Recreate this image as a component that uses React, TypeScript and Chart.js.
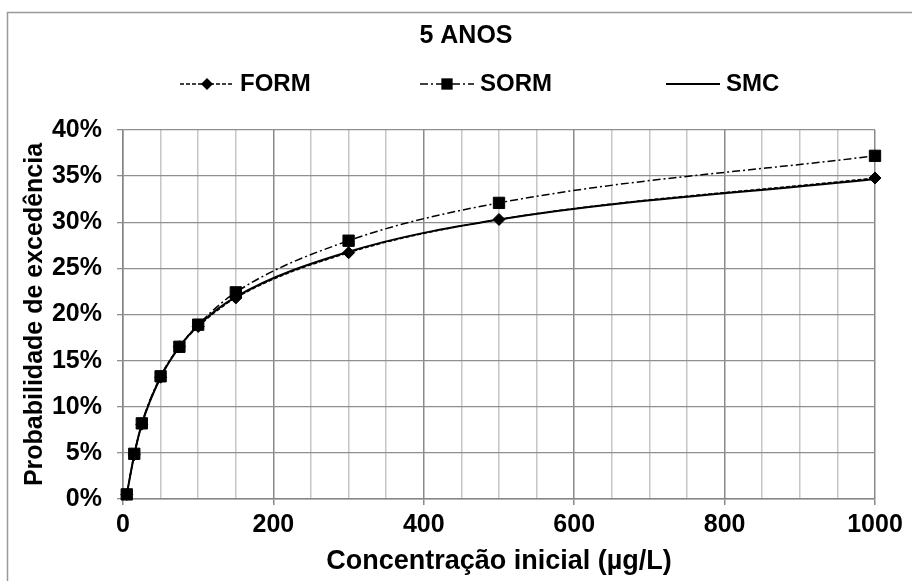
import React, { useEffect, useRef } from 'react';
import { Chart, registerables } from 'chart.js';

Chart.register(...registerables);

// ---- data ----
const concentrations = [5, 15, 25, 50, 75, 100, 150, 300, 500, 1000];
const formValues = [0.5, 4.8, 8.1, 13.2, 16.5, 18.7, 21.8, 26.7, 30.3, 34.8];
const sormValues = [0.5, 4.9, 8.2, 13.3, 16.5, 18.9, 22.4, 28.0, 32.1, 37.2];
const smcValues = [0.5, 4.8, 8.1, 13.2, 16.5, 18.8, 21.9, 26.8, 30.3, 34.7];
const seriesNames = ['FORM', 'SORM', 'SMC'];
const xTickLabels = [0, 200, 400, 600, 800, 1000];
const yTickLabels = [0, 5, 10, 15, 20, 25, 30, 35, 40];
const chartTitle = '5 ANOS';
const xAxisTitle = 'Concentração inicial (µg/L)';
const yAxisTitle = 'Probabilidade de excedência';

const FONT = "'Liberation Sans', Arial, sans-serif";
const CANVAS_W = 932;
const CANVAS_H = 581;

const frameLegendPlugin = {
  id: 'frameLegend',
  afterDraw(chart: any) {
    const ctx = chart.ctx as CanvasRenderingContext2D;
    ctx.save();
    // outer chart frame (left + top visible)
    ctx.strokeStyle = '#999999';
    ctx.lineWidth = 1.5;
    ctx.beginPath();
    ctx.moveTo(7.5, chart.height);
    ctx.lineTo(7.5, 12.5);
    ctx.lineTo(chart.width, 12.5);
    ctx.stroke();

    // legend
    const cx = chart.width / 2;
    const y = 84;
    const offsets = [-286, -46, 200];
    const sampleLen = 54;
    ctx.font = `bold 24px ${FONT}`;
    ctx.textBaseline = 'middle';
    ctx.textAlign = 'left';
    chart.data.datasets.forEach((ds: any, i: number) => {
      const x0 = cx + offsets[i];
      ctx.save();
      ctx.strokeStyle = '#000';
      ctx.lineWidth = ds.borderWidth;
      ctx.setLineDash(ds.borderDash || []);
      ctx.beginPath();
      ctx.moveTo(x0, y);
      ctx.lineTo(x0 + sampleLen, y);
      ctx.stroke();
      ctx.restore();
      const mx = x0 + sampleLen / 2;
      if (ds.pointRadius > 0) {
        ctx.save();
        ctx.fillStyle = '#000';
        ctx.beginPath();
        if (ds.pointStyle === 'rect') {
          const s = ds.pointRadius * Math.SQRT1_2;
          ctx.rect(mx - s, y - s, 2 * s, 2 * s);
        } else {
          const r = ds.pointRadius;
          ctx.moveTo(mx, y - r);
          ctx.lineTo(mx + r, y);
          ctx.lineTo(mx, y + r);
          ctx.lineTo(mx - r, y);
          ctx.closePath();
        }
        ctx.fill();
        ctx.restore();
      }
      ctx.fillStyle = '#000';
      ctx.fillText(ds.label, x0 + sampleLen + 6, y);
    });
    ctx.restore();
  },
};

export default function App() {
  const canvasRef = useRef<HTMLCanvasElement | null>(null);

  useEffect(() => {
    const canvas = canvasRef.current;
    if (!canvas) return;
    const toPts = (vals: number[]) => concentrations.map((x, i) => ({ x, y: vals[i] }));

    const chart = new Chart(canvas, {
      type: 'line',
      data: {
        datasets: [
          {
            label: seriesNames[0],
            data: toPts(formValues),
            borderColor: '#000',
            backgroundColor: '#000',
            borderWidth: 1.5,
            borderDash: [4, 2],
            pointStyle: 'rectRot',
            pointRadius: 6,
            pointBackgroundColor: '#000',
            pointBorderColor: '#000',
            pointBorderWidth: 1,
            cubicInterpolationMode: 'monotone',
            fill: false,
            clip: false,
          },
          {
            label: seriesNames[1],
            data: toPts(sormValues),
            borderColor: '#000',
            backgroundColor: '#000',
            borderWidth: 1.5,
            borderDash: [8, 3, 2, 3],
            pointStyle: 'rect',
            pointRadius: 8,
            pointBackgroundColor: '#000',
            pointBorderColor: '#000',
            pointBorderWidth: 1,
            cubicInterpolationMode: 'monotone',
            fill: false,
            clip: false,
          },
          {
            label: seriesNames[2],
            data: toPts(smcValues),
            borderColor: '#000',
            backgroundColor: '#000',
            borderWidth: 2,
            pointRadius: 0,
            cubicInterpolationMode: 'monotone',
            fill: false,
            clip: false,
          },
        ],
      },
      options: {
        animation: false,
        responsive: true,
        maintainAspectRatio: false,
        layout: { padding: { left: 0, right: 0, top: 0, bottom: 0 } },
        plugins: {
          legend: { display: false },
          tooltip: { enabled: false },
          title: {
            display: true,
            text: chartTitle,
            color: '#000',
            font: { family: FONT, size: 25, weight: 'bold' },
            padding: { top: 21, bottom: 79 },
          },
        },
        scales: {
          x: {
            type: 'linear',
            min: 0,
            max: 1000,
            afterFit: (s: any) => {
              s.height = 82;
            },
            ticks: {
              stepSize: 50,
              autoSkip: false,
              maxRotation: 0,
              color: '#000',
              padding: 5,
              font: { family: FONT, size: 25, weight: 'bold' },
              callback: (v: any) => (xTickLabels.includes(Number(v)) ? String(v) : ''),
            },
            grid: {
              color: (c: any) =>
                c.tick && xTickLabels.includes(c.tick.value) ? '#8a8a8a' : '#c6c6c6',
              tickColor: (c: any) =>
                c.tick && xTickLabels.includes(c.tick.value) ? '#8a8a8a' : 'rgba(0,0,0,0)',
              lineWidth: 1.5,
              tickLength: 6,
            },
            border: { color: '#868686', width: 1.5 },
            title: {
              display: true,
              text: xAxisTitle,
              color: '#000',
              font: { family: FONT, size: 27, weight: 'bold' },
              padding: { top: 0, bottom: 3 },
            },
          },
          y: {
            type: 'linear',
            min: 0,
            max: 40,
            afterFit: (s: any) => {
              s.width = 123;
            },
            ticks: {
              stepSize: 5,
              color: '#000',
              padding: 15,
              font: { family: FONT, size: 25, weight: 'bold' },
              callback: (v: any) => (yTickLabels.includes(Number(v)) ? `${v}%` : ''),
            },
            grid: {
              color: '#8f8f8f',
              tickColor: '#8f8f8f',
              lineWidth: 1.3,
              tickLength: 6,
            },
            border: { color: '#868686', width: 1.5 },
            title: {
              display: true,
              text: yAxisTitle,
              color: '#000',
              font: { family: FONT, size: 25, weight: 'bold' },
              padding: { top: 20, bottom: 0 },
            },
          },
          yRight: {
            type: 'linear',
            position: 'right',
            min: 0,
            max: 1,
            display: true,
            afterFit: (s: any) => {
              s.width = 57;
            },
            ticks: { display: false },
            grid: { display: false },
            border: { display: false },
          },
        },
      },
      plugins: [frameLegendPlugin],
    } as any);

    return () => {
      chart.destroy();
    };
  }, []);

  return (
    <div
      style={{
        position: 'fixed',
        left: 0,
        top: 0,
        width: 912,
        height: CANVAS_H,
        overflow: 'hidden',
        background: '#fff',
      }}
    >
      <div style={{ position: 'relative', width: CANVAS_W, height: CANVAS_H }}>
        <canvas ref={canvasRef} />
      </div>
    </div>
  );
}
